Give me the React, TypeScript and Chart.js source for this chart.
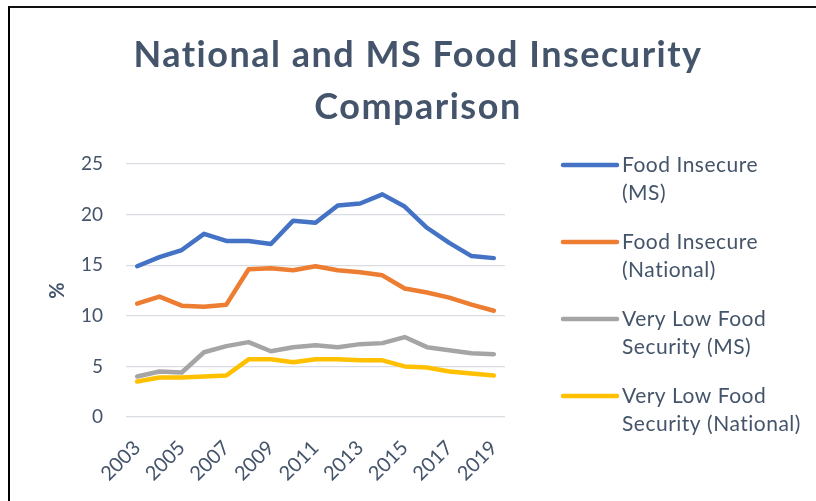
import React, { useEffect, useRef } from "react";
import { Chart, registerables } from "chart.js";

Chart.register(...registerables);

const years = ["2003", "2004", "2005", "2006", "2007", "2008", "2009", "2010", "2011", "2012", "2013", "2014", "2015", "2016", "2017", "2018", "2019"];
const foodInsecureMS = [14.9, 15.8, 16.5, 18.1, 17.4, 17.4, 17.1, 19.4, 19.2, 20.9, 21.1, 22.0, 20.8, 18.7, 17.2, 15.9, 15.7];
const foodInsecureNational = [11.2, 11.9, 11.0, 10.9, 11.1, 14.6, 14.7, 14.5, 14.9, 14.5, 14.3, 14.0, 12.7, 12.3, 11.8, 11.1, 10.5];
const veryLowMS = [4.0, 4.5, 4.4, 6.4, 7.0, 7.4, 6.5, 6.9, 7.1, 6.9, 7.2, 7.3, 7.9, 6.9, 6.6, 6.3, 6.2];
const veryLowNational = [3.5, 3.9, 3.9, 4.0, 4.1, 5.7, 5.7, 5.4, 5.7, 5.7, 5.6, 5.6, 5.0, 4.9, 4.5, 4.3, 4.1];
const seriesLabels = ["Food Insecure\n(MS)", "Food Insecure\n(National)", "Very Low Food\nSecurity (MS)", "Very Low Food\nSecurity (National)"];
const seriesColors = ["#4472C4", "#ED7D31", "#A5A5A5", "#FFC000"];
const titleLines = ["National and MS Food Insecurity", "Comparison"];
const yTicks = { min: 0, max: 25, step: 5 };
const axisTitle = "%";

const TEXT = "#44546A";

const titlePlugin = {
  id: "excelTitle",
  afterDraw(chart: any) {
    const ctx = chart.ctx;
    ctx.save();
    ctx.fillStyle = TEXT;
    ctx.font = "bold 36px Lato";
    (ctx as any).letterSpacing = "1.5px";
    ctx.textAlign = "center";
    ctx.textBaseline = "alphabetic";
    ctx.fillText(titleLines[0], 418, 67);
    ctx.fillText(titleLines[1], 418, 118.5);
    (ctx as any).letterSpacing = "0px";
    ctx.restore();
  },
};

const legendPlugin = {
  id: "excelLegend",
  afterDraw(chart: any) {
    const ctx = chart.ctx;
    ctx.save();
    chart.data.datasets.forEach((ds: any, i: number) => {
      const y = 165 + i * 77;
      ctx.strokeStyle = ds.borderColor;
      ctx.lineWidth = 4.5;
      ctx.lineCap = "round";
      ctx.beginPath();
      ctx.moveTo(563, y);
      ctx.lineTo(617, y);
      ctx.stroke();
      ctx.fillStyle = TEXT;
      ctx.font = "21px Lato";
      (ctx as any).letterSpacing = "0.5px";
      ctx.textAlign = "left";
      ctx.textBaseline = "middle";
      String(ds.label).split("\n").forEach((line: string, j: number) => {
        ctx.fillText(line, 622, y + j * 28.5);
      });
      (ctx as any).letterSpacing = "0px";
    });
    ctx.restore();
  },
};

export default function App() {
  const ref = useRef<HTMLCanvasElement | null>(null);
  useEffect(() => {
    if (!ref.current) return;
    const data = [foodInsecureMS, foodInsecureNational, veryLowMS, veryLowNational];
    const chart = new Chart(ref.current, {
      type: "line",
      data: {
        labels: years,
        datasets: data.map((d, i) => ({
          label: seriesLabels[i],
          data: d,
          borderColor: seriesColors[i],
          backgroundColor: seriesColors[i],
          borderWidth: 4.5,
          pointRadius: 0,
          pointHoverRadius: 0,
          tension: 0,
          fill: false,
          borderJoinStyle: "round",
          borderCapStyle: "round",
        })),
      },
      options: {
        responsive: false,
        animation: false,
        events: [],
        layout: { padding: { left: 0, top: 164, right: 311, bottom: 0 } },
        plugins: {
          legend: { display: false },
          title: { display: false },
          tooltip: { enabled: false },
        },
        scales: {
          x: {
            type: "category",
            offset: true,
            grid: { display: false, drawTicks: false },
            border: { display: false },
            ticks: {
              autoSkip: false,
              minRotation: 45,
              maxRotation: 45,
              color: TEXT,
              font: { family: "Lato", size: 20 },
              padding: 19,
              callback: (_v: any, i: number) => (i % 2 === 0 ? years[i] : ""),
            },
            afterFit: (s: any) => {
              s.height = 84;
            },
          },
          y: {
            min: yTicks.min,
            max: yTicks.max,
            ticks: {
              stepSize: yTicks.step,
              color: TEXT,
              font: { family: "Lato", size: 19 },
              padding: 23,
            },
            grid: { color: "#D9DDE2", lineWidth: 1.3, drawTicks: false },
            border: { display: false },
            title: {
              display: true,
              text: axisTitle,
              color: TEXT,
              font: { family: "Lato", size: 20, weight: "bold" },
              padding: { top: 46, bottom: 0 },
            },
            afterFit: (s: any) => {
              s.width = 126;
            },
          },
        },
      },
      plugins: [titlePlugin, legendPlugin],
    } as any);
    return () => chart.destroy();
  }, []);
  return (
    <div style={{ position: "fixed", left: 0, top: 0, width: 816, height: 501, background: "#fff", overflow: "hidden" }}>
      <canvas ref={ref} width={816} height={501} style={{ position: "absolute", left: 0, top: 0, width: 816, height: 501 }} />
      <div
        style={{
          position: "absolute",
          left: 8,
          top: 6,
          width: 830,
          height: 520,
          borderLeft: "2px solid #000",
          borderTop: "2px solid #111",
          pointerEvents: "none",
        }}
      />
    </div>
  );
}
